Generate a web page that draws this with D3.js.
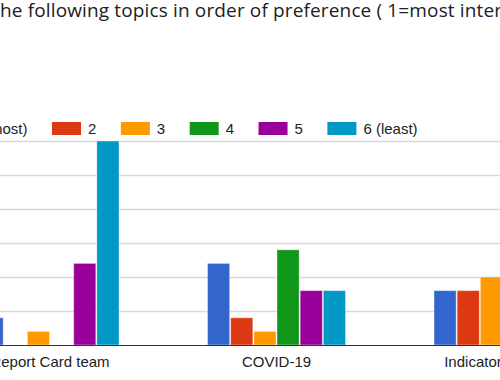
<!DOCTYPE html>
<html>
<head>
<meta charset="utf-8">
<script src="https://cdn.jsdelivr.net/npm/d3@7"></script>
<style>
  body { margin: 0; background: #fff; overflow: hidden; }
  svg { display: block; }
</style>
</head>
<body>
<svg id="chart"></svg>
<script>
let width = 500, height = 380;

// data (chart is cropped on both sides)
var categories = ["Report Card team", "COVID-19", "Indicator Updates"];
var seriesNames = ["1 (most)", "2", "3", "4", "5", "6 (least)"];
var seriesColors = ["#3366cc", "#dc3912", "#ff9900", "#109618", "#990099", "#0099c6"];
// one array per rank, values per category (null = off screen)
var rank1 = [4, 12, 8];
var rank2 = [0, 4, 8];
var rank3 = [2, 2, 10];
var rank4 = [0, 14, null];
var rank5 = [12, 8, null];
var rank6 = [30, 8, null];
var yTicks = [0, 5, 10, 15, 20, 25, 30];
var title = "he following topics in order of preference ( 1=most interested, 6=least interested)";

var values = [rank1, rank2, rank3, rank4, rank5, rank6];

let svg = d3.select("#chart")
            .attr("width", width)
            .attr("height", height);

// title
svg.append("text")
   .attr("x", 0)
   .attr("y", 17)
   .attr("font-family", "'Open Sans', Roboto, sans-serif")
   .attr("font-size", 19)
   .attr("letter-spacing", 0.14)
   .attr("fill", "#202124")
   .text(title);

// scales
var step = 226.5;
var x0 = d3.scaleBand()
           .domain(categories)
           .range([50 - step / 2, 50 - step / 2 + step * categories.length])
           .padding(0);
var x1 = d3.scaleBand()
           .domain(seriesNames)
           .range([43.75, step - 43.75]);
var y = d3.scaleLinear()
          .domain([0, 30])
          .range([345, 141]);

// gridlines
svg.append("g")
   .selectAll("line")
   .data(yTicks.slice(1))
   .join("line")
   .attr("x1", 0)
   .attr("x2", width)
   .attr("y1", d => Math.round(y(d)) + 0.5)
   .attr("y2", d => Math.round(y(d)) + 0.5)
   .attr("stroke", "#d9d9d9")
   .attr("stroke-width", 1.5);

// bars
var groups = svg.append("g")
   .selectAll("g")
   .data(categories)
   .join("g")
   .attr("transform", d => `translate(${x0(d)},0)`);

groups.selectAll("rect")
   .data((c, ci) => seriesNames.map((s, si) => ({s: s, v: values[si][ci], color: seriesColors[si]})).filter(d => d.v))
   .join("rect")
   .attr("x", d => x1(d.s) + 0.5)
   .attr("width", x1.bandwidth() - 1)
   .attr("y", d => y(d.v))
   .attr("height", d => y(0) - y(d.v))
   .attr("fill", d => d.color)
   .attr("stroke", "#fff")
   .attr("stroke-opacity", 0.4)
   .attr("stroke-width", 1);

// baseline
svg.append("line")
   .attr("x1", 0).attr("x2", width)
   .attr("y1", y(0) + 0.5).attr("y2", y(0) + 0.5)
   .attr("stroke", "#333")
   .attr("stroke-width", 1);

// category labels
svg.append("g")
   .selectAll("text")
   .data(categories)
   .join("text")
   .attr("x", d => x0(d) + x0.bandwidth() / 2)
   .attr("y", 367)
   .attr("text-anchor", "middle")
   .attr("font-family", "Arial, 'Liberation Sans', sans-serif")
   .attr("font-size", 15)
   .attr("fill", "#222")
   .text(d => d);

// legend, flowing left to right; item "2" swatch starts at x=52
var legend = svg.append("g");
var items = legend.selectAll("g")
   .data(seriesNames)
   .join("g");
items.append("rect")
   .attr("y", 122)
   .attr("width", 29)
   .attr("height", 13)
   .attr("fill", (d, i) => seriesColors[i]);
items.append("text")
   .attr("x", 36)
   .attr("y", 134)
   .attr("font-family", "Arial, 'Liberation Sans', sans-serif")
   .attr("font-size", 15)
   .attr("fill", "#222")
   .text(d => d);

var offsets = [];
var pos = 0;
items.each(function() {
  offsets.push(pos);
  pos += 36 + this.querySelector("text").getComputedTextLength() + 24.5;
});
var shift = 52 - offsets[1];
items.attr("transform", (d, i) => `translate(${offsets[i] + shift},0)`);
</script>
</body>
</html>
